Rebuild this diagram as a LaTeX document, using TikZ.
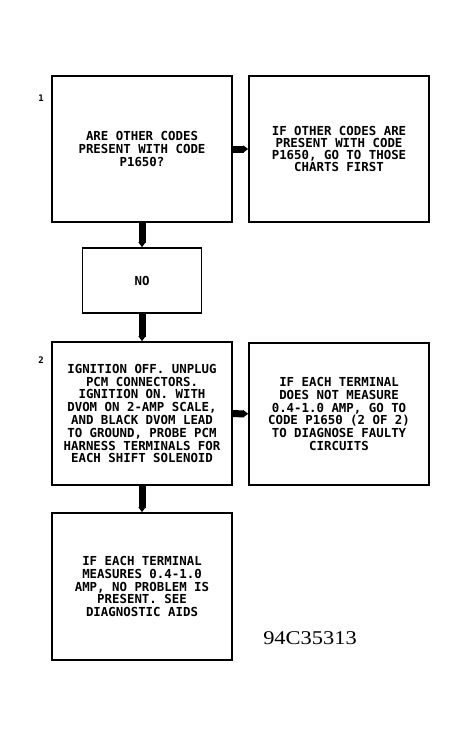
\documentclass[tikz,border=0pt]{standalone}
\usepackage{fontspec}
\usetikzlibrary{arrows.meta}
\newfontfamily\trazo{DejaVu Sans Mono}
\newfontfamily\pie{Liberation Serif}

\begin{document}
\begin{tikzpicture}[x=1pt, y=-1pt,
    paso/.style={rectangle, draw=black, line width=1.6pt, fill=white,
                 minimum width=180pt, minimum height=146pt, inner sep=0pt, align=center,
                 font=\trazo\bfseries\fontsize{12.4pt}{12.8pt}\selectfont},
    pasono/.style={paso, minimum width=119pt, minimum height=65pt},
    barra/.style={line width=7pt, -{Triangle[length=5pt, width=7pt]}},
    numero/.style={font=\trazo\bfseries\fontsize{9pt}{9pt}\selectfont}
  ]
  % Fondo y margenes
  \fill[white] (0,0) rectangle (467,736);

  % Paso 1
  \node[numero] (n1) at (41,98) {1};
  \node[paso] (p1) at (142,149) {ARE OTHER CODES\\ PRESENT WITH CODE\\ P1650?};
  \node[paso, font=\trazo\bfseries\fontsize{12.4pt}{11.8pt}\selectfont] (s1) at (339,149)
    {IF OTHER CODES ARE\\ PRESENT WITH CODE\\ P1650, GO TO THOSE\\ CHARTS FIRST};

  % Respuesta
  \node[pasono] (no) at (142,280.5) {NO};

  % Paso 2
  \node[numero] (n2) at (41,360) {2};
  \node[paso, minimum height=143pt] (p2) at (142,413.5)
    {IGNITION OFF. UNPLUG\\ PCM CONNECTORS.\\ IGNITION ON. WITH\\ DVOM ON 2-AMP SCALE,\\
     AND BLACK DVOM LEAD\\ TO GROUND, PROBE PCM\\ HARNESS TERMINALS FOR\\ EACH SHIFT SOLENOID};
  \node[paso, minimum height=142pt] (s2) at (339,414)
    {IF EACH TERMINAL\\ DOES NOT MEASURE\\ 0.4-1.0 AMP, GO TO\\ CODE P1650 (2 OF 2)\\
     TO DIAGNOSE FAULTY\\ CIRCUITS};
  \node[paso, minimum height=147pt] (p3) at (142,586.5)
    {IF EACH TERMINAL\\ MEASURES 0.4-1.0\\ AMP, NO PROBLEM IS\\ PRESENT. SEE\\ DIAGNOSTIC AIDS};

  % Clave de la figura
  \node[font=\pie\fontsize{19.5pt}{20pt}\selectfont, inner sep=0pt] (clave) at (310,638.5)
    {\scalebox{1.15}[1]{94C35313}};

  % Flechas
  \foreach \a/\b in {p1/no, no/p2, p2/p3, p1/s1, p2/s2} {
    \draw[barra] (\a) -- (\b);
  }
\end{tikzpicture}
\end{document}
